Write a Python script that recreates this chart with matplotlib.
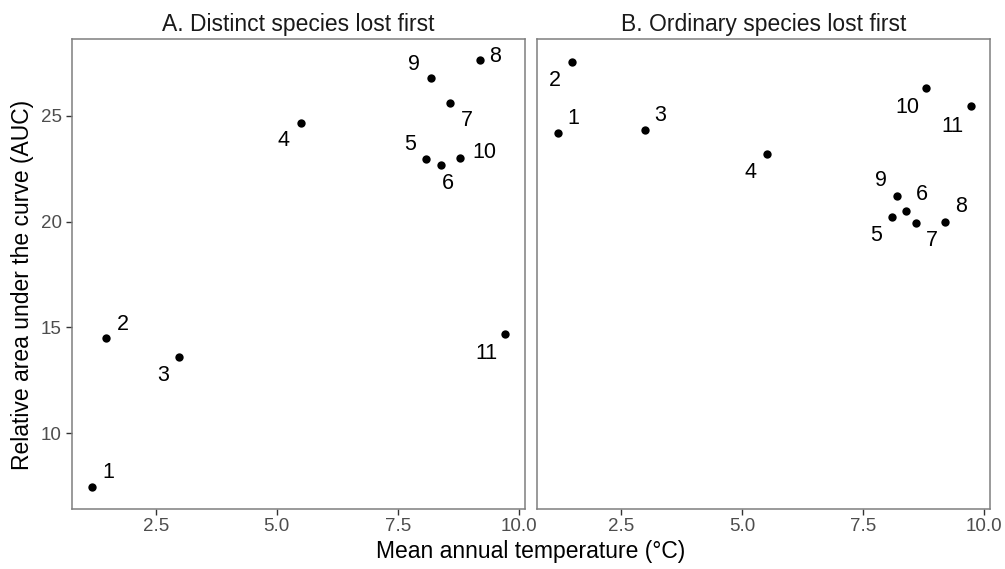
import matplotlib
matplotlib.use("Agg")
from matplotlib import pyplot as plt

plt.rcParams['font.family'] = ['Liberation Sans', 'DejaVu Sans']

# site numbers and mean annual temperature (same for both panels)
sites = ['1', '2', '3', '4', '5', '6', '7', '8', '9', '10', '11']
temp = [1.18, 1.48, 2.98, 5.5, 8.09, 8.39, 8.59, 9.19, 8.19, 8.79, 9.72]

# relative AUC
auc_distinct = [7.45, 14.48, 13.61, 24.64, 22.96, 22.69, 25.61, 27.61, 26.76, 23.02, 14.69]
auc_ordinary = [24.17, 27.51, 24.31, 23.18, 20.21, 20.52, 19.94, 20.00, 21.22, 26.31, 25.44]

titles = ['A. Distinct species lost first', 'B. Ordinary species lost first']

# label offsets (pixels), like ggrepel placed them
offs_a = [(16, 15), (16, 14), (-16, -19), (-17, -17), (-16, 14), (7, -19),
          (16, -18), (16, 4), (-17, 14), (24, 5), (-19, -20)]
offs_b = [(16, 15), (-17, -18), (16, 15), (-16, -18), (-16, -18), (16, 16),
          (16, -18), (16, 15), (-16, 15), (-18, -20), (-18, -20)]

fig = plt.figure(figsize=(10.05, 5.69), dpi=100)
ax1 = fig.add_axes([0.0713, 0.106, 0.4506, 0.8255])
ax2 = fig.add_axes([0.5346, 0.106, 0.4504, 0.8255], sharey=ax1)

for ax, vals, offs, title in [(ax1, auc_distinct, offs_a, titles[0]),
                               (ax2, auc_ordinary, offs_b, titles[1])]:
    ax.scatter(temp, vals, s=36, color='black', zorder=3, linewidths=0)
    for lab, x, y, (dx, dy) in zip(sites, temp, vals, offs):
        ax.annotate(lab, (x, y), xytext=(dx, dy), textcoords='offset pixels',
                    ha='center', va='center', fontsize=15.5, color='black')
    ax.set_xlim(0.76, 10.12)
    ax.set_ylim(6.44, 28.62)
    ax.set_xticks([2.5, 5.0, 7.5, 10.0])
    ax.set_xticklabels(['2.5', '5.0', '7.5', '10.0'])
    ax.set_yticks([10, 15, 20, 25])
    ax.tick_params(axis='both', length=4, width=1, color='#333333',
                   labelsize=13.5, labelcolor='#4d4d4d', pad=3)
    for sp in ax.spines.values():
        sp.set_color('#7f7f7f')
        sp.set_linewidth(1.1)
    ax.set_title(title, fontsize=16.5, color='#1a1a1a', pad=6)

ax2.tick_params(axis='y', left=False, labelleft=False)

fig.text(0.528, 0.031, 'Mean annual temperature (\u00b0C)', ha='center', va='center',
         fontsize=16.5, color='black')
fig.text(0.022, 0.50, 'Relative area under the curve (AUC)', ha='center', va='center',
         rotation=90, fontsize=16.5, color='black')

fig.savefig('out.png', dpi=100)
